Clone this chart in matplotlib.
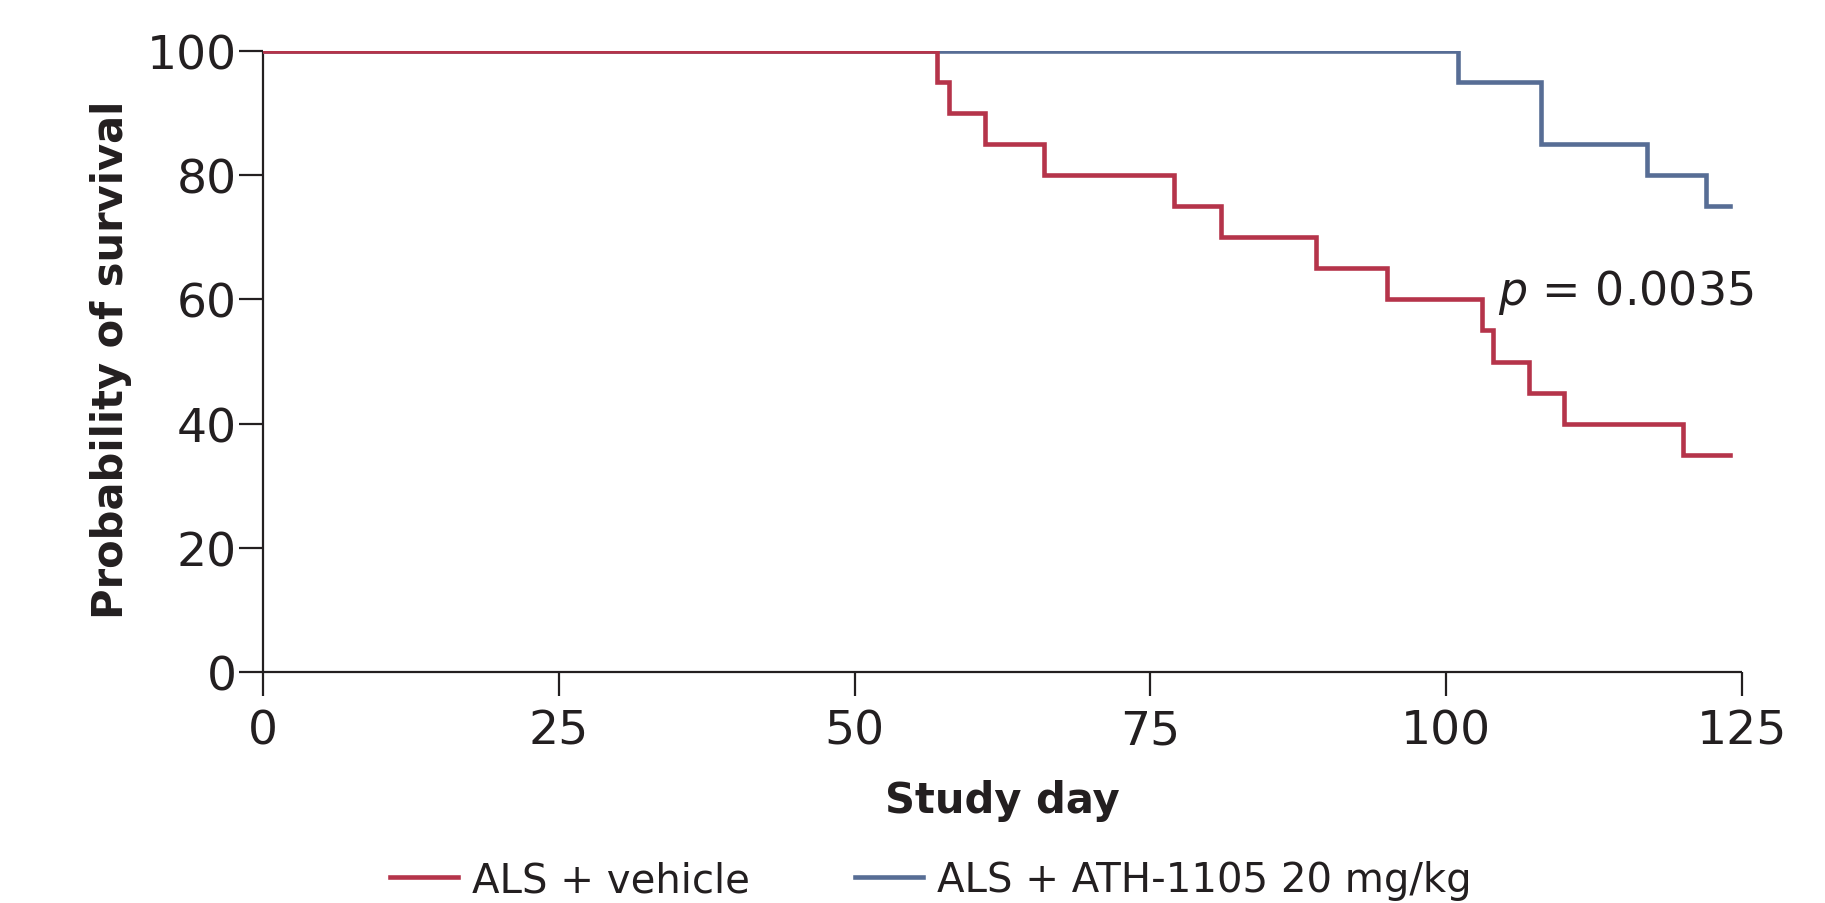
import matplotlib
matplotlib.use("Agg")
import matplotlib.pyplot as plt
from matplotlib.lines import Line2D

# Data (Kaplan-Meier steps)
vehicle_days = [0, 57, 58, 61, 66, 77, 81, 89, 95, 103, 104, 107, 110, 120, 124]
vehicle_surv = [100, 95, 90, 85, 80, 75, 70, 65, 60, 55, 50, 45, 40, 35, 35]
ath_days = [0, 101, 108, 117, 122, 124]
ath_surv = [100, 95, 85, 80, 75, 75]
series_labels = ["ALS + vehicle", "ALS + ATH-1105 20 mg/kg"]
x_ticks = [0, 25, 50, 75, 100, 125]
y_ticks = [0, 20, 40, 60, 80, 100]
p_text = r"$\mathit{p}$ = 0.0035"

RED = "#B5344A"
BLUE = "#576D95"
TXT = "#231F20"

plt.rcParams['font.family'] = ['DejaVu Sans']
plt.rcParams['mathtext.fontset'] = 'dejavusans'
fig = plt.figure(figsize=(18.25, 9.04), dpi=100)
ax = fig.add_axes([0.1441, 0.2555, 0.8104, 0.687])

ax.step(ath_days, ath_surv, where='post', color=BLUE, lw=3.3, solid_joinstyle='miter', zorder=3)
ax.step(vehicle_days, vehicle_surv, where='post', color=RED, lw=3.3, solid_joinstyle='miter', zorder=4)

ax.set_xlim(0, 125)
ax.set_ylim(0, 100)
ax.set_xticks(x_ticks)
ax.set_yticks(y_ticks)
for s in ['top', 'right']:
    ax.spines[s].set_visible(False)
for s in ['left', 'bottom']:
    ax.spines[s].set_linewidth(1.6)
    ax.spines[s].set_color(TXT)
    ax.spines[s].set_capstyle('butt')
ax.tick_params(axis='both', direction='out', length=17, width=1.6, color=TXT,
               labelsize=34, labelcolor=TXT)
ax.tick_params(axis='y', pad=2)
ax.tick_params(axis='x', pad=9)
for sp in ax.spines.values():
    sp.set_clip_on(False)

ax.set_xlabel("Study day", fontsize=30, fontweight='bold', color=TXT, va='center')
ax.xaxis.set_label_coords(0.5, -0.206)
ax.set_ylabel("Probability of survival", fontsize=30, fontweight='bold', color=TXT, va='center')
ax.yaxis.set_label_coords(-0.103, 0.504)

ax.text(104.4, 59.3, p_text, fontsize=33, color=TXT, va='baseline', ha='left')

handles = [Line2D([], [], color=RED, lw=3.3), Line2D([], [], color=BLUE, lw=3.3)]
fig.legend(handles, series_labels, loc='center', bbox_to_anchor=(0.51, 0.0254),
           ncol=2, frameon=False, fontsize=29, handlelength=1.7, handletextpad=0.35,
           columnspacing=2.6, labelcolor=TXT)

fig.savefig("out.png", dpi=100, facecolor='white')
